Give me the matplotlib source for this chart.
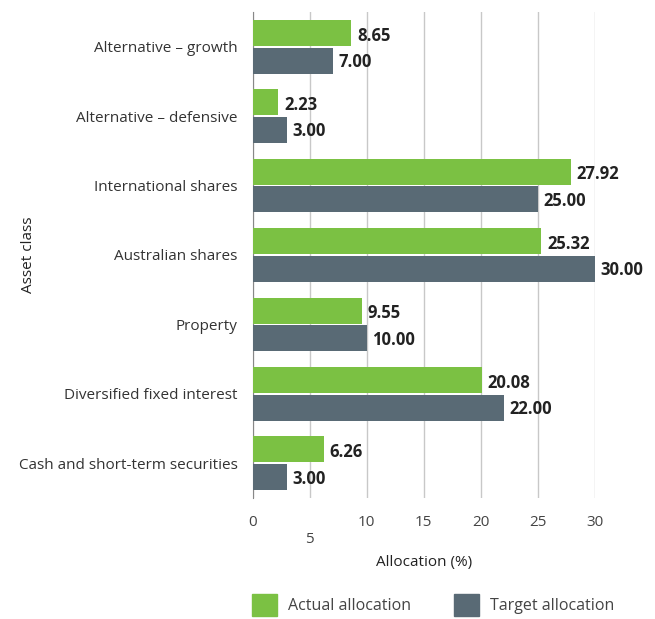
import matplotlib
matplotlib.use("Agg")
import numpy as np
import matplotlib.pyplot as plt
from matplotlib.patches import Patch

plt.rcParams['font.family'] = ['Open Sans', 'DejaVu Sans']

categories = ['Alternative – growth', 'Alternative – defensive', 'International shares',
              'Australian shares', 'Property', 'Diversified fixed interest',
              'Cash and short-term securities']
actual = [8.65, 2.23, 27.92, 25.32, 9.55, 20.08, 6.26]
target = [7.00, 3.00, 25.00, 30.00, 10.00, 22.00, 3.00]
xticks = [0, 5, 10, 15, 20, 25, 30]
xtick_labels = ['0', '\n5', '10', '15', '20', '25', '30']

green = '#7bc143'
slate = '#596a75'

fig = plt.figure(figsize=(6.55, 6.19), dpi=100)
ax = fig.add_axes([0.386, 0.1955, 0.522, 0.7851])

y = np.arange(len(categories))
h = 0.375
ax.barh(y - 0.2, actual, height=h, color=green, zorder=3)
ax.barh(y + 0.2, target, height=h, color=slate, zorder=3)

for yi, a, t in zip(y, actual, target):
    ax.text(a + 0.5, yi - 0.16, f'{a:.2f}', va='center', ha='left',
            fontsize=12, fontweight='bold', color='#222222')
    ax.text(t + 0.5, yi + 0.22, f'{t:.2f}', va='center', ha='left',
            fontsize=12, fontweight='bold', color='#222222')

ax.set_ylim(len(categories) - 0.5, -0.5)
ax.set_xlim(0, 30)
ax.set_yticks(y)
ax.set_yticklabels(categories, fontsize=11, color='#333333')
ax.set_xticks(xticks)
ax.set_xticklabels(xtick_labels, fontsize=11, color='#444444')
ax.tick_params(axis='both', length=0)
ax.tick_params(axis='y', pad=11)
ax.tick_params(axis='x', pad=12)

ax.grid(axis='x', color='#c8c8c8', linewidth=1, zorder=0)
for s in ['top', 'right', 'bottom']:
    ax.spines[s].set_visible(False)
ax.spines['left'].set_color('#888888')

ax.set_xlabel('Allocation (%)', fontsize=11, color='#222222', labelpad=6)
ax.set_ylabel('Asset class', fontsize=11, color='#222222')
ax.yaxis.set_label_coords(-0.635, 0.5)

handles = [Patch(color=green, label='Actual allocation'),
           Patch(color=slate, label='Target allocation')]
fig.legend(handles=handles, loc='lower left', bbox_to_anchor=(0.385, 0.005),
           ncol=2, frameon=False, fontsize=11.5, handlelength=1.55, handleheight=1.7,
           handletextpad=0.7, columnspacing=2.7, borderpad=0, borderaxespad=0,
           labelcolor='#444444')

fig.savefig('out.png', dpi=100)
